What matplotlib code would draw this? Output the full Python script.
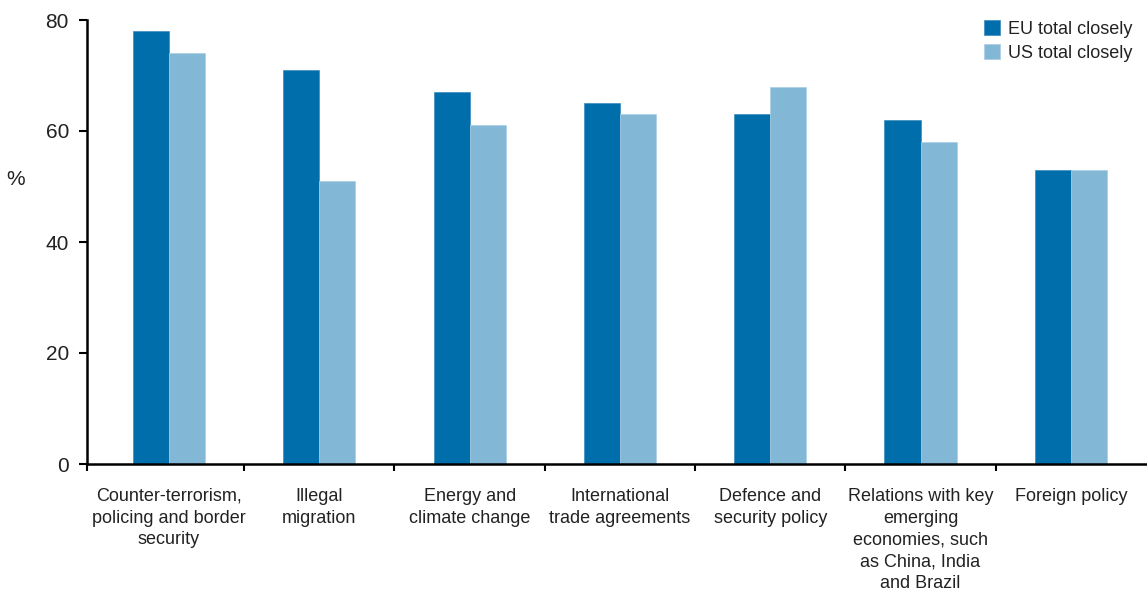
import numpy as np
import matplotlib.pyplot as plt

# data
categories = [
    "Counter-terrorism,\npolicing and border\nsecurity",
    "Illegal\nmigration",
    "Energy and\nclimate change",
    "International\ntrade agreements",
    "Defence and\nsecurity policy",
    "Relations with key\nemerging\neconomies, such\nas China, India\nand Brazil",
    "Foreign policy",
]
eu_values = [78, 71, 67, 65, 63, 62, 53]
us_values = [74, 51, 61, 63, 68, 58, 53]
series_names = ["EU total closely", "US total closely"]
y_ticks = [0, 20, 40, 60, 80]

plt.rcParams["font.family"] = ["Liberation Sans", "DejaVu Sans"]
text_col = "#222222"
fs = 13

fig = plt.figure(figsize=(11.47, 5.92), dpi=100)
ax = fig.add_axes([87 / 1147, 128 / 592, 1060 / 1147, 444 / 592])

x = np.arange(len(categories))
w = 0.24
ax.bar(x - w / 2, eu_values, w, color="#006eab", edgecolor="#3a8bbd", linewidth=0.5,
       label=series_names[0])
ax.bar(x + w / 2, us_values, w, color="#82b7d6", edgecolor="#a9cfe6", linewidth=0.5,
       label=series_names[1])

ax.set_xlim(-0.546, 6.507)
ax.set_ylim(0, 80)

for side in ["top", "right"]:
    ax.spines[side].set_visible(False)
for side in ["left", "bottom"]:
    ax.spines[side].set_linewidth(1.8)
    ax.spines[side].set_color("black")

ax.set_yticks(y_ticks)
ax.tick_params(axis="y", length=6, width=1.5, pad=7, labelsize=15, labelcolor=text_col)

# category labels at centres, tick marks at boundaries
ax.set_xticks(x)
ax.set_xticklabels(categories, fontsize=fs, color=text_col, linespacing=1.38)
ax.tick_params(axis="x", which="major", length=0, pad=17)
ax.set_xticks([-0.546] + list(np.arange(0.5, 6.0, 1.0)), minor=True)
ax.tick_params(axis="x", which="minor", length=5, width=1.5, direction="out")

ax.set_ylabel("%", rotation=0, fontsize=15, color=text_col)
ax.yaxis.set_label_coords(-0.067, 0.62)

ax.legend(loc="upper left", bbox_to_anchor=(984 / 1147, 1 - 20 / 592),
          bbox_transform=fig.transFigure, frameon=False, fontsize=fs,
          handlelength=0.9, handleheight=0.9, handletextpad=0.45,
          labelspacing=0.35, borderpad=0, borderaxespad=0, labelcolor=text_col)

fig.savefig("out.png", dpi=100)
